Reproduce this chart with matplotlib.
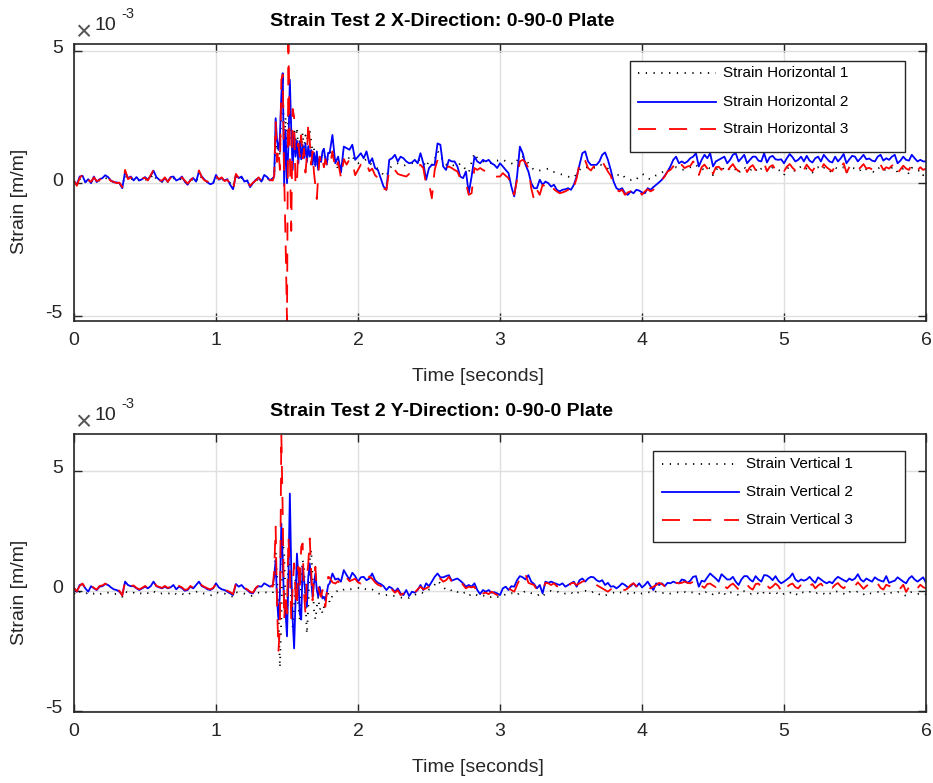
import numpy as np
import matplotlib
matplotlib.use("Agg")
import matplotlib.pyplot as plt
from matplotlib.lines import Line2D
from matplotlib.patches import Rectangle
from matplotlib.ticker import FixedLocator, FuncFormatter
import matplotlib.transforms as mtrans

plt.rcParams["font.family"] = ["Liberation Sans", "DejaVu Sans"]
plt.rcParams["axes.unicode_minus"] = False

# ---------------------------------------------------------------------------
# Strain records, in units of 1e-3 m/m.
# Each channel is split into three sampling windows:
#   quiet  : 0.00 - 1.38 s  (20 ms steps)
#   impact : 1.40 - 1.79 s  (10 ms steps)
#   after  : 1.80 - 6.00 s  (20 ms steps)
# ---------------------------------------------------------------------------
QUIET_SPAN = (0.00, 1.38)
IMPACT_SPAN = (1.40, 1.79)
AFTER_SPAN = (1.80, 6.00)

# ---- X-direction, Strain Horizontal 1 ----
h1_quiet = [
    0.05, 0.0, 0.15, 0.2, 0.05, 0.1, 0.05, 0.15, 0.1, 0.1,
    0.15, 0.2, 0.15, 0.1, 0.05, 0.05, 0.0, -0.1, 0.3, 0.15,
    0.2, 0.1, 0.15, 0.1, 0.15, 0.15, 0.1, 0.2, 0.35, 0.15,
    0.1, 0.05, 0.15, 0.05, 0.15, 0.2, 0.1, 0.1, 0.2, 0.05,
    0.0, 0.1, 0.15, 0.05, 0.3, 0.2, 0.1, 0.05, 0.0, 0.0,
    0.25, 0.1, 0.15, 0.1, 0.1, 0.0, -0.15, 0.25, 0.15, 0.2,
    0.05, 0.1, -0.1, 0.0, 0.1, 0.15, 0.05, 0.25, 0.2, 0.1,
]
h1_impact = [
    0.1, 0.3, 1.8, 1.2, 1.5, 1.0, 2.8, 3.8, 1.2, 2.5,
    0.8, 2.7, 2.6, 1.5, 1.0, 2.0, 1.5, 2.1, 1.2, 1.7,
    1.1, 1.9, 1.3, 1.8, 1.6, 2.1, 2.0, 1.6, 1.2, 1.3,
    0.7, 1.1, 0.6, 1.0, 0.8, 1.1, 1.3, 1.0, 0.8, 1.0,
]
h1_after = [
    1.1, 1.3, 0.9, 0.5, 0.6, 0.9, 0.8, 1.0, 1.05, 0.8,
    0.75, 0.8, 0.85, 0.9, 0.75, 0.7, 0.6, 0.55, 0.45, 0.3,
    0.25, 0.55, 0.65, 0.7, 0.75, 0.7, 0.65, 0.7, 0.72, 0.75,
    0.8, 0.85, 0.9, 0.8, 0.6, 0.85, 0.7, 0.9, 1.2, 1.1,
    0.8, 0.7, 0.75, 0.7, 0.65, 0.62, 0.75, 0.65, 0.5, 0.4,
    0.8, 1.13, 0.95, 0.85, 0.82, 0.8, 0.78, 0.75, 0.85, 0.85,
    0.88, 0.9, 0.82, 0.8, 0.75, 0.7, 0.85, 1.0, 1.0, 0.88,
    0.75, 0.6, 0.5, 0.45, 0.48, 0.5, 0.52, 0.55, 0.45, 0.42,
    0.38, 0.35, 0.32, 0.3, 0.25, 0.2, 0.22, 0.35, 0.5, 0.6,
    0.62, 0.58, 0.56, 0.58, 0.6, 0.7, 0.68, 0.62, 0.55, 0.3,
    0.25, 0.32, 0.3, 0.35, 0.2, 0.15, 0.12, 0.2, 0.15, 0.25,
    0.35, 0.3, 0.18, 0.15, 0.2, 0.3, 0.32, 0.4, 0.48, 0.55,
    0.5, 0.58, 0.6, 0.55, 0.5, 0.52, 0.55, 0.6, 0.62, 0.7,
    0.55, 0.55, 0.5, 0.6, 0.55, 0.3, 0.5, 0.58, 0.62, 0.5,
    0.45, 0.58, 0.6, 0.5, 0.35, 0.55, 0.6, 0.5, 0.45, 0.6,
    0.52, 0.4, 0.55, 0.62, 0.5, 0.45, 0.6, 0.55, 0.5, 0.45,
    0.3, 0.55, 0.6, 0.5, 0.45, 0.58, 0.62, 0.5, 0.55, 0.45,
    0.4, 0.55, 0.6, 0.5, 0.58, 0.5, 0.42, 0.5, 0.6, 0.52,
    0.55, 0.6, 0.4, 0.5, 0.58, 0.55, 0.45, 0.5, 0.6, 0.52,
    0.5, 0.45, 0.4, 0.55, 0.6, 0.48, 0.52, 0.5, 0.58, 0.6,
    0.4, 0.45, 0.55, 0.5, 0.35, 0.58, 0.52, 0.45, 0.5, 0.3,
    0.4,
]

# ---- X-direction, Strain Horizontal 2 ----
h2_quiet = [
    0.06, -0.06, 0.25, 0.28, 0.03, 0.15, 0.0, 0.25, 0.04, 0.15,
    0.19, 0.3, 0.23, 0.1, 0.03, 0.03, 0.0, -0.19, 0.44, 0.19,
    0.25, 0.1, 0.23, 0.1, 0.15, 0.23, 0.13, 0.28, 0.47, 0.23,
    0.13, 0.06, 0.19, 0.06, 0.23, 0.25, 0.1, 0.15, 0.25, 0.06,
    -0.06, 0.13, 0.19, 0.06, 0.44, 0.25, 0.13, 0.03, -0.04, 0.0,
    0.31, 0.13, 0.19, 0.1, 0.15, -0.06, -0.23, 0.31, 0.19, 0.25,
    0.06, 0.1, -0.15, 0.0, 0.13, 0.19, 0.06, 0.31, 0.23, 0.1,
]
h2_impact = [
    0.19, 0.25, 2.45, 1.6, 1.25, 1.75, 3.3, 4.15, -0.1, 2.0,
    0.0, 1.4, 3.9, 2.0, 0.5, 1.9, 1.0, 1.6, 0.75, 1.55,
    0.9, 1.45, 0.95, 1.5, 0.8, 1.4, 1.0, 1.25, 0.7, 1.15,
    0.65, 1.2, 0.5, 1.0, 0.8, 1.2, 1.3, 0.9, 0.7, 1.15,
]
h2_after = [
    1.13, 1.82, 0.75, 1.0, 0.4, 1.38, 1.32, 1.26, 1.45, 0.88,
    1.0, 1.13, 0.94, 1.2, 0.75, 0.94, 0.57, 0.5, 0.19, -0.13,
    -0.25, 0.88, 0.94, 1.07, 0.82, 1.0, 0.94, 0.82, 0.75, 0.78,
    0.88, 0.75, 1.13, 0.75, 0.13, 0.57, 0.69, 0.69, 1.5, 1.45,
    0.63, 0.5, 0.88, 0.82, 0.82, 0.63, 0.25, 0.19, 0.44, -0.38,
    0.25, 1.0, 0.82, 0.75, 0.88, 0.82, 0.88, 0.75, 0.69, 0.57,
    0.75, 0.63, 0.5, 0.38, -0.13, -0.5, 0.25, 1.38, 1.13, 0.69,
    0.44, 0.0, -0.19, -0.19, 0.13, -0.06, 0.06, 0.0, -0.13, -0.06,
    -0.25, -0.31, -0.25, -0.23, -0.19, -0.25, -0.06, 0.25, 0.69, 1.13,
    1.2, 0.82, 0.69, 0.69, 0.69, 0.82, 1.07, 1.16, 0.88, 0.5,
    0.06, -0.19, -0.25, -0.19, -0.38, -0.44, -0.31, -0.38, -0.25, -0.28,
    -0.35, -0.38, -0.19, -0.25, -0.15, -0.06, 0.03, 0.13, 0.28, 0.44,
    0.63, 0.88, 1.0, 0.75, 0.82, 0.75, 0.82, 0.94, 1.0, 1.13,
    0.63, 0.88, 1.07, 0.94, 1.13, 0.63, 0.82, 0.88, 0.94, 1.0,
    0.75, 0.88, 1.07, 1.13, 0.82, 0.94, 1.07, 0.75, 0.88, 1.0,
    1.0, 0.85, 0.82, 1.13, 0.78, 0.98, 1.03, 0.9, 0.88, 0.9,
    0.75, 0.94, 1.1, 0.98, 0.82, 0.88, 1.0, 0.82, 1.03, 0.85,
    0.78, 0.94, 1.0, 0.82, 1.07, 0.94, 0.82, 0.78, 1.0, 0.82,
    0.94, 1.1, 0.75, 0.9, 1.03, 1.0, 0.82, 0.94, 1.07, 0.9,
    0.93, 0.85, 0.82, 1.0, 1.07, 0.85, 0.94, 0.88, 1.0, 1.07,
    0.75, 0.85, 1.0, 0.88, 0.85, 1.07, 0.94, 0.82, 0.88, 0.82,
    0.82,
]

# ---- X-direction, Strain Horizontal 3 ----
h3_quiet = [
    0.1, -0.1, 0.2, 0.3, 0.0, 0.12, 0.05, 0.22, 0.08, 0.12,
    0.22, 0.35, 0.2, 0.08, 0.05, 0.0, 0.02, -0.15, 0.5, 0.15,
    0.22, 0.12, 0.2, 0.12, 0.18, 0.2, 0.1, 0.3, 0.5, 0.2,
    0.1, 0.1, 0.22, 0.05, 0.2, 0.28, 0.12, 0.12, 0.22, 0.1,
    -0.02, 0.1, 0.22, 0.1, 0.48, 0.22, 0.1, 0.06, 0.0, 0.02,
    0.28, 0.15, 0.22, 0.08, 0.12, -0.02, -0.28, 0.35, 0.2, 0.22,
    0.1, 0.08, -0.1, 0.02, 0.1, 0.22, 0.08, 0.28, 0.2, 0.12,
]
h3_impact = [
    0.1, 0.3, 2.3, 0.8, 1.3, 0.5, 3.9, 4.1, 0.3, -2.2,
    -5.19, 5.24, 1.2, -1.8, 2.8, 2.5, -0.1, 0.0, 1.5, 1.0,
    1.8, 0.9, 1.3, 0.4, 1.0, 2.3, 1.6, 0.7, 1.2, 0.4,
    -0.1, -0.6, 0.3, 1.0, 0.7, 0.9, 0.6, 0.9, 0.7, 0.6,
]
h3_after = [
    0.6, 1.2, 0.5, 0.8, 0.2, 0.9, 0.7, 0.9, 0.8, 0.3,
    0.5, 0.7, 0.6, 0.75, 0.45, 0.55, 0.3, 0.2, 0.0, -0.2,
    -0.25, 0.5, 0.4, 0.5, 0.35, 0.31, 0.28, 0.25, 0.35, 0.38,
    0.5, 0.63, 0.69, 0.57, -0.06, 0.0, -0.57, 0.5, 0.88, 0.75,
    0.63, 0.57, 0.63, 0.57, 0.5, 0.44, 0.19, 0.13, 0.0, -0.44,
    -0.38, 0.57, 0.5, 0.57, 0.5, 0.44, 0.35, 0.31, 0.23, 0.25,
    0.25, 0.38, 0.28, 0.19, -0.19, -0.44, 0.13, 0.82, 0.88, 0.78,
    0.57, -0.19, -0.63, -0.25, -0.44, -0.06, -0.13, -0.19, -0.06, -0.23,
    -0.31, -0.38, -0.35, -0.31, -0.25, -0.38, -0.15, 0.19, 0.75, 0.94,
    0.85, 0.57, 0.48, 0.63, 0.57, 0.69, 0.82, 0.63, 0.44, 0.28,
    -0.06, -0.25, -0.31, -0.25, -0.44, -0.35, -0.31, -0.4, -0.38, -0.28,
    -0.44, -0.31, -0.23, -0.31, -0.25, -0.13, -0.03, 0.13, 0.25, 0.44,
    0.5, 0.63, 0.82, 0.63, 0.69, 0.57, 0.63, 0.65, 0.82, 0.69,
    0.31, 0.6, 0.7, 0.55, 0.72, 0.35, 0.6, 0.62, 0.5, 0.7,
    0.45, 0.6, 0.72, 0.55, 0.45, 0.65, 0.7, 0.42, 0.6, 0.68,
    0.5, 0.55, 0.62, 0.75, 0.45, 0.62, 0.68, 0.5, 0.55, 0.6,
    0.45, 0.62, 0.72, 0.58, 0.48, 0.6, 0.66, 0.5, 0.7, 0.55,
    0.45, 0.62, 0.68, 0.5, 0.72, 0.6, 0.52, 0.45, 0.66, 0.55,
    0.62, 0.75, 0.4, 0.6, 0.7, 0.62, 0.5, 0.6, 0.72, 0.55,
    0.58, 0.52, 0.45, 0.66, 0.7, 0.5, 0.6, 0.55, 0.66, 0.72,
    0.38, 0.52, 0.66, 0.55, 0.5, 0.72, 0.6, 0.48, 0.6, 0.5,
    0.55,
]

# ---- Y-direction, Strain Vertical 1 ----
v1_quiet = [
    -0.1, -0.2, -0.05, -0.1, -0.15, -0.05, -0.1, -0.12, -0.08, -0.15,
    -0.1, -0.05, -0.08, -0.1, -0.15, -0.12, -0.18, -0.25, -0.02, -0.1,
    -0.12, -0.08, -0.15, -0.1, -0.12, -0.05, -0.1, -0.12, -0.02, -0.1,
    -0.15, -0.1, -0.08, -0.12, -0.1, -0.05, -0.15, -0.1, -0.12, -0.18,
    -0.2, -0.08, -0.1, -0.05, -0.02, -0.1, -0.12, -0.15, -0.2, -0.15,
    -0.05, -0.1, -0.15, -0.12, -0.2, -0.22, -0.25, -0.05, -0.1, -0.08,
    -0.12, -0.15, -0.22, -0.2, -0.12, -0.08, -0.1, -0.05, -0.08, -0.1,
]
v1_impact = [
    -0.1, 0.44, 1.55, 0.58, -0.95, -3.2, -1.2, 2.1, 1.55, -0.53,
    -1.5, 1.7, 1.0, -0.4, -1.5, -0.67, 0.44, 0.17, -0.67, -1.2,
    0.44, 1.28, 1.0, -0.4, -1.8, -0.67, 1.28, 1.7, 0.58, -0.8,
    -1.2, -0.67, -0.25, -0.8, -0.67, -0.95, -0.67, -0.4, -0.25, -0.1,
]
v1_after = [
    -0.5, -0.2, -0.05, 0.0, -0.05, 0.05, 0.1, 0.05, 0.08, 0.1,
    0.12, 0.05, 0.1, 0.05, 0.0, 0.05, -0.05, -0.1, -0.15, -0.2,
    -0.18, -0.15, -0.2, -0.22, -0.25, -0.28, -0.3, -0.25, -0.3, -0.22,
    -0.18, -0.1, -0.05, -0.1, 0.0, 0.05, 0.1, 0.25, 0.42, 0.3,
    0.15, 0.05, 0.1, 0.0, 0.05, -0.05, 0.0, -0.1, -0.05, -0.2,
    -0.15, -0.1, -0.2, -0.25, -0.2, -0.22, -0.3, -0.25, -0.2, -0.25,
    -0.28, -0.2, -0.15, -0.18, -0.1, -0.15, -0.2, -0.05, -0.1, 0.0,
    -0.05, -0.1, -0.12, -0.2, -0.15, -0.25, -0.1, -0.05, 0.0, -0.05,
    -0.02, -0.08, -0.05, -0.12, -0.1, -0.05, -0.18, -0.1, -0.05, -0.02,
    0.0, -0.05, -0.1, -0.02, -0.08, -0.15, -0.12, -0.2, -0.15, -0.1,
    -0.08, -0.12, -0.05, -0.1, -0.15, -0.12, -0.18, -0.08, -0.1, -0.05,
    -0.12, -0.1, -0.05, -0.08, -0.12, -0.02, -0.05, -0.1, -0.08, -0.05,
    -0.12, -0.1, -0.05, -0.08, -0.02, -0.05, -0.1, -0.05, -0.08, -0.1,
    -0.15, -0.05, -0.1, -0.02, -0.08, -0.15, -0.05, -0.1, 0.0, -0.12,
    -0.2, -0.08, -0.05, -0.12, -0.18, -0.05, -0.02, -0.1, -0.15, -0.08,
    -0.05, -0.12, -0.2, -0.05, 0.0, -0.1, -0.08, -0.05, -0.15, -0.2,
    -0.12, -0.05, -0.1, -0.02, -0.12, -0.18, -0.05, -0.08, -0.12, -0.05,
    -0.1, -0.15, -0.05, -0.08, -0.12, -0.2, -0.1, -0.15, -0.05, -0.02,
    -0.1, -0.12, -0.18, -0.05, -0.08, -0.1, -0.02, -0.08, -0.15, -0.05,
    -0.1, -0.12, -0.08, -0.05, -0.12, -0.18, -0.05, -0.1, -0.08, -0.12,
    -0.05, -0.1, -0.15, -0.22, -0.08, -0.05, -0.1, -0.15, -0.08, -0.12,
    -0.15,
]

# ---- Y-direction, Strain Vertical 2 ----
v2_quiet = [
    0.1, -0.04, 0.24, 0.28, 0.1, -0.04, 0.19, 0.1, 0.03, 0.17,
    0.19, 0.28, 0.24, 0.14, 0.06, 0.03, -0.04, -0.18, 0.38, 0.24,
    0.19, 0.19, 0.1, 0.03, 0.1, 0.17, 0.1, 0.19, 0.38, 0.19,
    0.14, 0.1, 0.17, 0.1, 0.14, 0.24, 0.06, 0.17, 0.11, 0.0,
    0.03, 0.17, 0.1, 0.24, 0.38, 0.19, 0.14, 0.06, 0.03, 0.1,
    0.31, 0.14, 0.06, 0.03, -0.04, -0.11, -0.18, 0.28, 0.17, 0.24,
    0.1, 0.03, -0.08, -0.11, 0.1, 0.19, 0.17, 0.31, 0.24, 0.17,
]
v2_impact = [
    0.24, 0.58, 1.28, -0.4, -1.2, -0.1, 2.8, 1.28, -0.67, -0.9,
    -1.9, 0.5, 4.05, 0.86, -1.2, -2.4, -0.4, 1.55, 0.58, -0.95,
    -1.2, 1.0, 0.44, -0.1, -0.67, 0.58, 1.14, 0.44, -0.25, 0.3,
    0.72, 0.03, -0.25, 0.17, -0.1, -0.32, -0.25, -0.4, -0.1, 0.24,
]
v2_after = [
    0.3, 0.72, 0.47, 0.51, 0.38, 0.86, 0.65, 0.47, 0.75, 0.61,
    0.38, 0.56, 0.58, 0.44, 0.51, 0.72, 0.44, 0.33, 0.28, 0.19,
    0.03, 0.17, 0.1, -0.04, 0.1, -0.11, -0.18, 0.03, -0.22, -0.04,
    -0.08, 0.03, 0.24, 0.03, 0.31, 0.19, 0.38, 0.58, 0.72, 0.56,
    0.56, 0.61, 0.65, 0.42, 0.47, 0.51, 0.42, 0.31, 0.17, 0.24,
    0.17, 0.31, 0.03, -0.14, 0.03, -0.04, 0.03, -0.08, -0.06, -0.11,
    -0.18, 0.1, 0.17, 0.03, 0.19, 0.17, 0.44, 0.61, 0.56, 0.47,
    0.65, 0.38, 0.28, 0.1, 0.24, -0.11, 0.38, 0.33, 0.38, 0.33,
    0.28, 0.24, 0.31, 0.17, 0.24, 0.31, 0.38, 0.17, 0.44, 0.51,
    0.38, 0.51, 0.58, 0.56, 0.44, 0.38, 0.44, 0.24, 0.33, 0.17,
    0.19, 0.1, 0.19, 0.31, 0.24, 0.14, 0.19, 0.31, 0.17, 0.31,
    0.14, 0.24, 0.38, 0.19, 0.03, 0.31, 0.24, 0.31, 0.19, 0.33,
    0.31, 0.38, 0.33, 0.31, 0.47, 0.44, 0.33, 0.42, 0.58, 0.61,
    0.17, 0.42, 0.38, 0.56, 0.72, 0.61, 0.51, 0.38, 0.69, 0.58,
    0.47, 0.47, 0.58, 0.38, 0.24, 0.47, 0.61, 0.61, 0.47, 0.38,
    0.61, 0.47, 0.38, 0.65, 0.64, 0.56, 0.44, 0.61, 0.42, 0.31,
    0.38, 0.47, 0.56, 0.72, 0.47, 0.38, 0.47, 0.42, 0.47, 0.58,
    0.44, 0.33, 0.56, 0.47, 0.38, 0.31, 0.38, 0.31, 0.47, 0.58,
    0.51, 0.44, 0.38, 0.51, 0.44, 0.51, 0.69, 0.47, 0.38, 0.51,
    0.44, 0.38, 0.56, 0.47, 0.42, 0.38, 0.61, 0.33, 0.38, 0.42,
    0.56, 0.47, 0.38, 0.31, 0.51, 0.61, 0.47, 0.38, 0.47, 0.56,
    0.33,
]

# ---- Y-direction, Strain Vertical 3 ----
v3_quiet = [
    0.12, -0.02, 0.2, 0.3, 0.12, 0.0, 0.22, 0.12, 0.05, 0.2,
    0.22, 0.3, 0.22, 0.12, 0.08, 0.05, 0.0, -0.2, 0.42, 0.22,
    0.2, 0.22, 0.12, 0.06, 0.12, 0.2, 0.12, 0.22, 0.4, 0.2,
    0.16, 0.12, 0.2, 0.12, 0.16, 0.28, 0.08, 0.2, 0.14, 0.04,
    0.06, 0.2, 0.12, 0.28, 0.4, 0.22, 0.16, 0.1, 0.06, 0.12,
    0.28, 0.16, 0.1, 0.06, 0.0, -0.06, -0.14, 0.3, 0.2, 0.26,
    0.12, 0.06, -0.04, -0.08, 0.12, 0.22, 0.2, 0.28, 0.26, 0.2,
]
v3_impact = [
    0.17, 0.86, 2.67, -0.67, -2.5, -1.5, 6.52, 3.2, -1.2, -0.1,
    -0.95, 2.25, 0.86, -1.2, 0.17, 1.14, -0.1, -0.67, 1.0, 0.03,
    1.83, 1.97, -0.1, -0.95, 0.58, 1.14, 2.18, 0.86, -0.4, 0.58,
    1.0, 0.03, 0.17, -0.1, -0.25, 0.03, -0.4, -0.67, -0.1, 0.58,
]
v3_after = [
    0.55, 0.35, 0.3, 0.4, 0.25, 0.5, 0.55, 0.4, 0.45, 0.5,
    0.35, 0.3, 0.5, 0.4, 0.6, 0.5, 0.35, 0.25, 0.2, 0.1,
    0.0, 0.12, 0.05, -0.08, 0.02, -0.18, -0.11, -0.04, -0.14, -0.11,
    -0.08, 0.06, 0.17, 0.06, 0.1, 0.17, 0.28, 0.33, 0.47, 0.51,
    0.38, 0.44, 0.58, 0.38, 0.44, 0.47, 0.44, 0.24, 0.1, 0.17,
    0.14, 0.17, -0.11, -0.25, -0.11, -0.08, -0.14, -0.04, -0.11, -0.18,
    -0.11, 0.03, 0.06, 0.1, 0.03, -0.04, 0.24, 0.51, 0.44, 0.68,
    0.33, 0.28, 0.24, 0.03, 0.06, 0.0, 0.33, 0.31, 0.24, 0.31,
    0.19, 0.17, 0.14, 0.1, 0.17, 0.31, 0.33, 0.24, 0.31, 0.38,
    0.42, 0.33, 0.31, 0.33, 0.24, 0.17, 0.1, 0.03, -0.04, 0.06,
    0.1, 0.17, 0.14, 0.06, 0.03, 0.1, 0.24, 0.31, 0.19, 0.24,
    0.17, 0.14, 0.17, 0.1, 0.17, 0.24, 0.33, 0.28, 0.19, 0.24,
    0.17, 0.28, 0.33, 0.31, 0.33, 0.38, 0.33, 0.31, 0.38, 0.19,
    0.1, 0.2, 0.12, 0.28, 0.3, 0.22, 0.15, 0.25, 0.35, 0.2,
    0.1, 0.22, 0.3, 0.18, 0.05, 0.2, 0.32, 0.25, 0.12, 0.05,
    0.28, 0.3, 0.15, 0.35, 0.22, 0.1, 0.18, 0.3, 0.2, 0.0,
    -0.1, 0.15, 0.25, 0.3, 0.15, 0.1, 0.25, 0.3, 0.12, 0.2,
    0.28, 0.1, 0.22, 0.3, 0.15, 0.05, 0.2, 0.12, 0.25, 0.32,
    0.18, 0.1, 0.22, 0.28, 0.15, 0.2, 0.35, 0.22, 0.08, 0.2,
    0.28, 0.15, 0.22, 0.3, 0.12, 0.05, 0.25, 0.2, 0.15, 0.3,
    0.22, 0.1, 0.25, -0.05, 0.15, 0.3, 0.2, 0.1, 0.25, 0.15,
    0.1,
]

TITLES = ["Strain Test 2 X-Direction: 0-90-0 Plate",
          "Strain Test 2 Y-Direction: 0-90-0 Plate"]
LABELS_X = ["Strain Horizontal 1", "Strain Horizontal 2", "Strain Horizontal 3"]
LABELS_Y = ["Strain Vertical 1", "Strain Vertical 2", "Strain Vertical 3"]
XTICKS = [0, 1, 2, 3, 4, 5, 6]
YTICKS = [-5, 0, 5]                    # in units of 1e-3
YLIM_X = (-5.19, 5.24)
YLIM_Y = (-5.04, 6.52)


def assemble(quiet, impact, after):
    t = np.concatenate([
        np.linspace(*QUIET_SPAN, len(quiet)),
        np.linspace(*IMPACT_SPAN, len(impact)),
        np.linspace(*AFTER_SPAN, len(after)),
    ])
    v = np.concatenate([quiet, impact, after]) * 1e-3
    return t, v


# ---------------------------------------------------------------------------
W, H = 933, 783
fig = plt.figure(figsize=(W / 100, H / 100), dpi=100)


def fx(px):
    return px / W


def fy(py):
    return 1 - py / H


INK = "#262626"
STYLES = [
    dict(color="black", lw=1.3, linestyle=(0, (0.7, 3.6))),
    dict(color="#0000ff", lw=1.3, linestyle="-"),
    dict(color="#ff0000", lw=1.3, linestyle=(0, (10.0, 7.2))),
]

ax_top = fig.add_axes([fx(74), fy(320.7), fx(926) - fx(74), fy(44.3) - fy(320.7)])
ax_bot = fig.add_axes([fx(74), fy(711.7), fx(926) - fx(74), fy(434.3) - fy(711.7)])

series_top = [assemble(h1_quiet, h1_impact, h1_after),
              assemble(h2_quiet, h2_impact, h2_after),
              assemble(h3_quiet, h3_impact, h3_after)]
series_bot = [assemble(v1_quiet, v1_impact, v1_after),
              assemble(v2_quiet, v2_impact, v2_after),
              assemble(v3_quiet, v3_impact, v3_after)]

for ax, series, ylim in [(ax_top, series_top, YLIM_X), (ax_bot, series_bot, YLIM_Y)]:
    for (t, v), st in zip(series, STYLES):
        ax.plot(t, v, **st)
    ax.set_xlim(0, 6)
    ax.set_ylim(ylim[0] * 1e-3, ylim[1] * 1e-3)
    ax.xaxis.set_major_locator(FixedLocator(XTICKS))
    ax.yaxis.set_major_locator(FixedLocator([y * 1e-3 for y in YTICKS]))
    ax.yaxis.set_major_formatter(FuncFormatter(lambda v, p: f"{round(v * 1e3):d}"))
    ax.grid(True, color="#dfdfdf", lw=1.0)
    ax.set_axisbelow(True)
    ax.tick_params(direction="in", length=6, width=1.0, top=True, right=True,
                   labelsize=14, colors=INK, pad=8)
    for s in ax.spines.values():
        s.set_color(INK)
        s.set_linewidth(1.2)
    lift = mtrans.ScaledTranslation(0, 4 / 100, fig.dpi_scale_trans)
    for tick in ax.yaxis.get_major_ticks():
        tick.label1.set_transform(tick.label1.get_transform() + lift)

# titles, axis labels and the exponent markers
fig.text(fx(442), fy(25.5), TITLES[0], fontsize=14, fontweight="bold",
         ha="center", va="baseline", color="black")
fig.text(fx(442), fy(416), TITLES[1], fontsize=14, fontweight="bold",
         ha="center", va="baseline", color="black")
for yc in (377, 767):
    fig.text(fx(478), fy(yc), "Time [seconds]", fontsize=14, ha="center",
             va="center", color=INK)
for yc in (201, 592):
    fig.text(fx(20), fy(yc), "Strain [m/m]", fontsize=14, rotation=90,
             ha="center", va="center", color=INK)
for base in (30, 420):
    fig.text(fx(83.5), fy(base + 3), "\u00d7", fontsize=20, ha="center",
             va="center", color="#555555")
    fig.text(fx(94), fy(base), "10", fontsize=14, ha="left",
             va="baseline", color=INK)
    fig.text(fx(121), fy(base - 12), "-3", fontsize=10.5, ha="left",
             va="baseline", color=INK)


def draw_key(box, rows, line_x, text_x, labels):
    x0, y0, x1, y1 = box
    fig.add_artist(Rectangle((fx(x0), fy(y1)), fx(x1) - fx(x0), fy(y0) - fy(y1),
                             transform=fig.transFigure, facecolor="white",
                             edgecolor=INK, lw=1.0, zorder=5))
    for y, lab, st in zip(rows, labels, STYLES):
        fig.add_artist(Line2D([fx(line_x[0]), fx(line_x[1])], [fy(y), fy(y)],
                              transform=fig.transFigure, zorder=6, **st))
        fig.text(fx(text_x), fy(y), lab, fontsize=11, ha="left", va="center",
                 color="black", zorder=6)


draw_key((630, 60.7, 905, 151.7), (73.3, 101.7, 129.3), (638, 716), 723, LABELS_X)
draw_key((653.3, 450.7, 905, 541.7), (464, 491.7, 520), (661.7, 739.3), 746, LABELS_Y)

fig.savefig("out.png", dpi=100, facecolor="white")
